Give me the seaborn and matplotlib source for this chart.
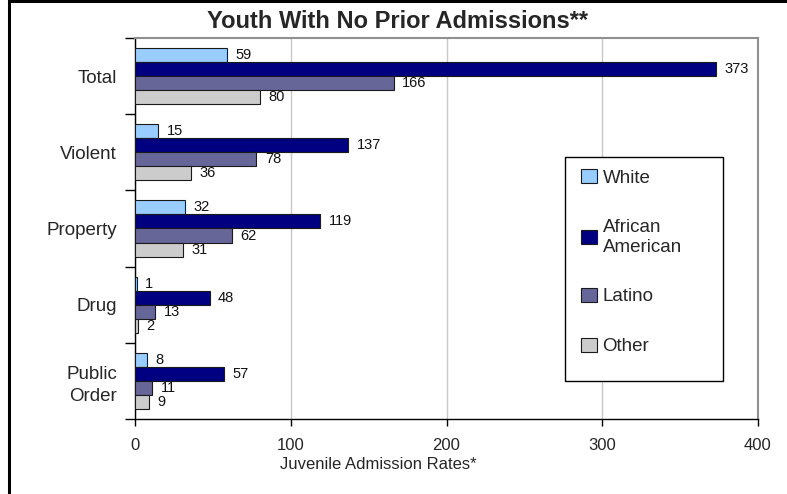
import matplotlib
matplotlib.use("Agg")
import matplotlib.pyplot as plt
import seaborn as sns
import pandas as pd
from matplotlib.patches import Rectangle

# data
categories = ["Total", "Violent", "Property", "Drug", "Public\nOrder"]
groups = ["White", "African\nAmerican", "Latino", "Other"]
white = [59, 15, 32, 1, 8]
african_american = [373, 137, 119, 48, 57]
latino = [166, 78, 62, 13, 11]
other = [80, 36, 31, 2, 9]
x_ticks = [0, 100, 200, 300, 400]

colors = ["#99CCFF", "#000080", "#666699", "#CCCCCC"]

rows = []
for g, vals in zip(groups, [white, african_american, latino, other]):
    for c, v in zip(categories, vals):
        rows.append({"category": c, "group": g, "rate": v})
data = pd.DataFrame(rows)

sns.set_style("white")
plt.rcParams["font.family"] = ["Liberation Sans", "DejaVu Sans"]

fig = plt.figure(figsize=(7.87, 4.94), dpi=100)
ax = fig.add_axes([135 / 787, 1 - 419 / 494, 623 / 787, 381 / 494])

sns.barplot(data=data, y="category", x="rate", hue="group", orient="h",
            palette=colors, saturation=1, order=categories, hue_order=groups,
            width=0.74, edgecolor="#1a1a1a", linewidth=0.8, ax=ax, zorder=3)

# value labels
for container in ax.containers:
    ax.bar_label(container, padding=6, fontsize=10.5, color="#111111")

ax.set_xlim(0, 400)
ax.set_ylim(4.5, -0.5)
ax.set_xticks(x_ticks)
ax.set_xticklabels([str(t) for t in x_ticks], fontsize=12)
ax.set_yticks([i for i in range(len(categories))])
ax.set_yticklabels(categories, fontsize=13.5, linespacing=1.4)
ax.set_yticks([i + 0.5 for i in range(-1, len(categories))], minor=True)
ax.tick_params(axis="y", which="major", length=0, pad=13)
ax.tick_params(axis="y", which="minor", length=7, width=1, color="black",
               direction="out", left=True)
ax.tick_params(axis="x", length=5, width=1, color="black", direction="out",
               bottom=True, pad=9)
ax.set_xlabel("Juvenile Admission Rates*", fontsize=12)
ax.xaxis.set_label_coords((378 - 135) / 623, -(457 - 419) / 381)
ax.set_ylabel("")

ax.grid(axis="x", color="#C8C8C8", linewidth=1, zorder=0)
ax.set_axisbelow(True)
for side in ["top", "right"]:
    ax.spines[side].set_visible(True)
    ax.spines[side].set_color("#909090")
    ax.spines[side].set_linewidth(1.5)
for side in ["left", "bottom"]:
    ax.spines[side].set_color("black")
    ax.spines[side].set_linewidth(1)

fig.text(398 / 787, 1 - 21 / 494, "Youth With No Prior Admissions**",
         fontsize=17, fontweight="bold", ha="center", va="center")

# legend box drawn separately so it can be as wide as the original
ax.add_patch(Rectangle(((565 - 135) / 623, (419 - 381) / 381), 158 / 623, 224 / 381,
                       transform=ax.transAxes, facecolor="white",
                       edgecolor="black", linewidth=1, zorder=4))
handles, labels = ax.get_legend_handles_labels()
leg = ax.legend(handles, labels, loc="upper left",
                bbox_to_anchor=((581 - 135) / 623, (419 - 169) / 381),
                fontsize=13.5, frameon=False,
                handlelength=0.85, handleheight=0.8, handletextpad=0.3,
                labelspacing=1.72, borderpad=0, borderaxespad=0)
leg.set_zorder(5)

# outer frame of the whole picture
fig.patches.append(Rectangle((9 / 787, -0.1), 1.2, 1.1 - 1 / 494,
                             transform=fig.transFigure, fill=False,
                             edgecolor="black", linewidth=2.2))

fig.savefig("out.png", dpi=100)
